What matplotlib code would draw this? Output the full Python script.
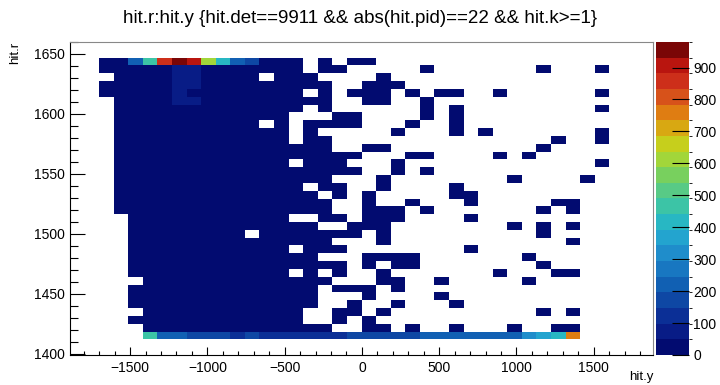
import numpy as np
import matplotlib.pyplot as plt
from matplotlib.colors import ListedColormap, BoundaryNorm

plt.rcParams['font.family'] = ['Liberation Sans', 'DejaVu Sans']

# ---------------------------------------------------------------
# histogram binning (40 x 40 bins, auto range as drawn by ROOT)
# ---------------------------------------------------------------
x_lo, x_hi = -1889.0, 1884.0
y_lo, y_hi = 1399.0, 1660.0
n_bins = 40
first_col = 2      # first filled column (hit.y ~ -1700)
top_bin = 37       # row index of the uppermost filled row

# content of the top row (hit.r ~ 1650), left to right
top_row = [20, 20, 210, 480, 850, 965, 920, 600, 410, 220, 160, 20, 20, 20,
           0, 20, 0, 20, 20, 0, 0, 0, 0, 0, 0, 0, 0, 0, 0, 0, 0, 0, 0, 0, 0]

# content of the bottom row (hit.r ~ 1420), left to right
bottom_row = [0, 0, 0, 460, 220, 220, 170, 170, 170, 120, 170, 120, 120, 120,
              120, 120, 120, 170, 170, 170, 170, 170, 220, 220, 220, 220, 220,
              220, 220, 300, 360, 410, 770, 0, 0]

# rows in between, top to bottom: '#' a few entries, 'a' ~70, '.' empty
occupancy = [
    "#####aa#######.##.....#.......#...#",
    ".####aa####.###....#...............",
    "#####aa#########..###..............",
    "#####a########.#.###.#.##..#......#",
    ".####aa#########..##..#............",
    ".#############.#......#.#.........#",
    ".############...##....#.#..........",
    ".##########.#.####...#..#..........",
    ".############.#.....#...#.#.......#",
    ".############.##...............#..#",
    ".###############..##..........#....",
    ".#################...##....#.#.....",
    ".############.###...#.............#",
    ".#################..#.#............",
    ".###############...#........#....#.",
    ".#############.##..#....#..........",
    ".##############.#.#.....##.........",
    ".###############..#..#...#.....##..",
    ".###############..###.#.......#.#..",
    "..###########..##.###....#.........",
    "..#############..###........#.#.#..",
    "..########.#######.#..........#....",
    "..##############...#............#..",
    "..###########.###........#.........",
    "..#############...####.......#.....",
    "..###############.#.##........#....",
    "..###########.#.#..#.......#...##..",
    "...#############...##..#.....#.....",
    "..#############.###.#..............",
    "..#############...#....#...........",
    "..#############..#..#...#..........",
    "...###########..##.#..........#.#..",
    "..############..#.#................",
    "...#############..##.#..#...#..##..",
]
symbol_value = {'.': 0, '#': 20, 'a': 70}

# palette sampled from the colour scale (20 contour levels)
palette = ['#020b70', '#081c86', '#0b2f96', '#0e47a4', '#1160b3', '#1877c1',
           '#1f8dcb', '#23a4cf', '#28b7c3', '#3cc4a6', '#58ca86', '#78d05e',
           '#a2d63a', '#c6cf1c', '#d8a812', '#df7d12', '#d7521a', '#cd2f1a',
           '#b9150f', '#7a0606']
z_max = 980

# ---------------------------------------------------------------
counts = np.zeros((n_bins, n_bins))
rows = [top_row] + [[symbol_value[ch] for ch in line] for line in occupancy] + [bottom_row]
for t, row in enumerate(rows):
    r = top_bin - t
    counts[r, first_col:first_col + len(row)] = row

x_edges = np.linspace(x_lo, x_hi, n_bins + 1)
y_edges = np.linspace(y_lo, y_hi, n_bins + 1)

cmap = ListedColormap(palette)
norm = BoundaryNorm(np.linspace(0, z_max, len(palette) + 1), cmap.N)

fig = plt.figure(figsize=(7.2, 3.85), dpi=100)
ax = fig.add_axes([70 / 720, 30 / 385, 583 / 720, 313 / 385])
mesh = ax.pcolormesh(x_edges, y_edges, np.ma.masked_equal(counts, 0),
                     cmap=cmap, norm=norm)

ax.set_xlim(x_lo, x_hi)
ax.set_ylim(y_lo, y_hi)
ax.set_xticks([-1500, -1000, -500, 0, 500, 1000, 1500])
ax.set_xticks(np.arange(-1800, 1900, 100), minor=True)
ax.set_yticks([1400, 1450, 1500, 1550, 1600, 1650])
ax.set_yticks(np.arange(1400, 1661, 10), minor=True)
ax.tick_params(axis='x', which='major', direction='in', length=6, width=0.8,
               labelsize=10, pad=4, top=False)
ax.tick_params(axis='x', which='minor', direction='in', length=3, width=0.8, top=False)
ax.tick_params(axis='y', which='major', direction='in', length=11, width=0.8,
               labelsize=10, pad=4, right=False)
ax.tick_params(axis='y', which='minor', direction='in', length=5.5, width=0.8, right=False)
for side in ['top', 'right']:
    ax.spines[side].set_color('#888888')

ax.set_xlabel('hit.y', fontsize=9.5, ha='right')
ax.xaxis.set_label_coords(1.0, -0.05)
ax.set_ylabel('hit.r', fontsize=9.5, ha='right')
ax.yaxis.set_label_coords(-0.084, 1.0)

fig.suptitle('hit.r:hit.y {hit.det==9911 && abs(hit.pid)==22 && hit.k>=1}',
             fontsize=13.5, y=0.975)

cax = fig.add_axes([656 / 720, 30 / 385, 33 / 720, 313 / 385])
cb = fig.colorbar(mesh, cax=cax, ticks=np.arange(0, 1000, 100))
cb.outline.set_visible(False)
cax.tick_params(direction='in', length=12, width=0.8, labelsize=10, pad=3)

fig.savefig('out.png', dpi=100)
